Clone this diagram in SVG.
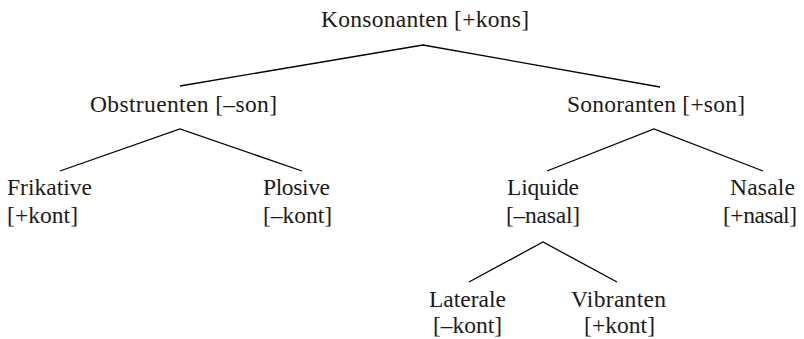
<svg xmlns="http://www.w3.org/2000/svg" width="804" height="339" viewBox="0 0 804 339">
<style>
text{font-family:"Liberation Serif","Times New Roman",serif;font-size:23.5px;fill:#1a1a1a}
.e{stroke:#000;stroke-width:1.3;fill:none}
</style>
<rect width="804" height="339" fill="#fff"/>
<g id="connectors">
<polyline class="e" points="180,86 423,45 660,87"/>
<polyline class="e" points="60,171 180,129 302,171"/>
<polyline class="e" points="547,171 654,129 763,171"/>
<polyline class="e" points="469,282 543,242 617,282"/>
</g>
<g id="konsonanten"><text x="321" y="27" textLength="208">Konsonanten [+kons]</text></g>
<g id="obstruenten"><text x="90" y="112" textLength="187">Obstruenten [–son]</text></g>
<g id="sonoranten"><text x="567" y="112" textLength="178">Sonoranten [+son]</text></g>
<g id="frikative"><text x="7" y="195" textLength="85">Frikative</text><text x="7" y="223" textLength="71">[+kont]</text></g>
<g id="plosive"><text x="263" y="195" textLength="67">Plosive</text><text x="263" y="223" textLength="69">[–kont]</text></g>
<g id="liquide"><text x="507" y="195" textLength="72">Liquide</text><text x="506" y="223" textLength="74">[–nasal]</text></g>
<g id="nasale"><text x="730" y="195" textLength="65">Nasale</text><text x="723" y="223" textLength="74">[+nasal]</text></g>
<g id="laterale"><text x="429" y="307" textLength="77">Laterale</text><text x="433" y="333" textLength="69">[–kont]</text></g>
<g id="vibranten"><text x="571" y="307" textLength="95">Vibranten</text><text x="584" y="333" textLength="71">[+kont]</text></g>
</svg>
